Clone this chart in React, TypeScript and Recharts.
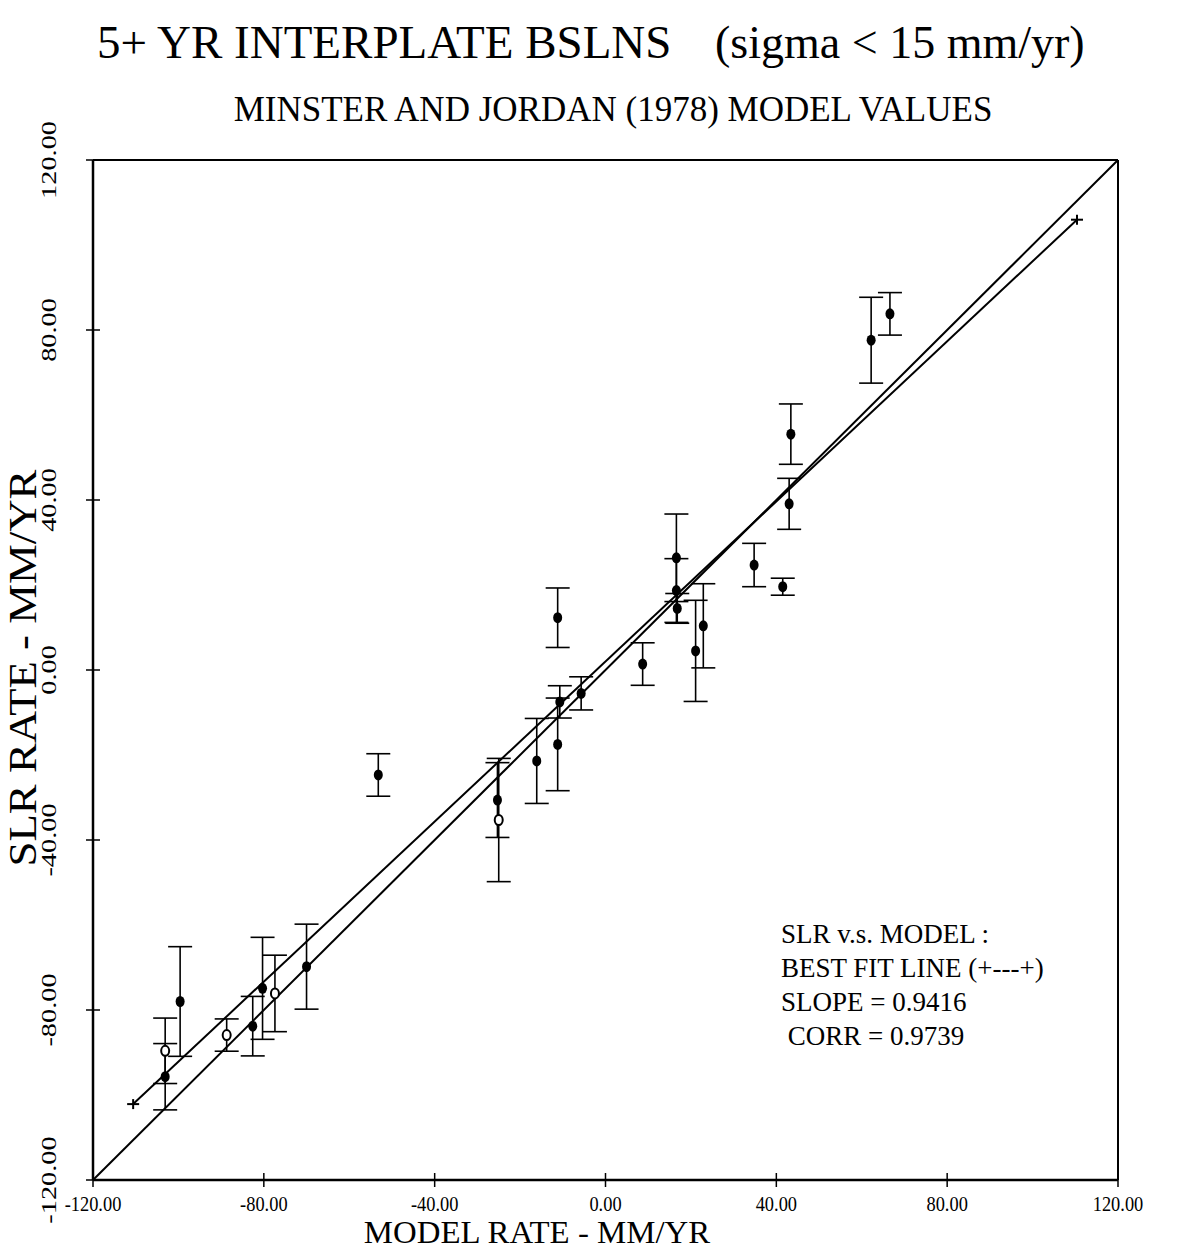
import React from 'react';
import {
  ScatterChart,
  Scatter,
  XAxis,
  YAxis,
  ErrorBar,
  ReferenceLine,
} from 'recharts';

// SLR baseline rates against Minster & Jordan (1978) model rates, mm/yr
const modelRate = [
  -103.1, -99.6, -82.6, -80.3, -70.0, -53.2, -25.3, -16.1, -11.2, -11.2, -10.7, -5.7,
  8.7, 16.6, 16.6, 16.8, 21.1, 22.9, 34.8, 41.5, 43.0, 43.4, 62.2, 66.6,
];
const slrRate = [
  -95.7, -78.0, -83.8, -74.9, -69.8, -24.7, -30.6, -21.4, 12.3, -17.5, -7.5, -5.5,
  1.4, 26.4, 18.7, 14.5, 4.5, 10.4, 24.7, 19.6, 39.1, 55.5, 77.6, 83.8,
];
const slrSigma = [
  7.8, 12.9, 7.0, 12.0, 10.0, 5.0, 8.8, 10.0, 7.0, 10.9, 3.8, 3.9,
  5.0, 10.3, 7.5, 3.5, 11.9, 9.9, 5.1, 2.0, 6.0, 7.1, 10.1, 5.0,
];

// baselines plotted with open symbols
const openModelRate = [-103.1, -88.7, -77.4, -25.0];
const openSlrRate = [-89.6, -85.9, -76.1, -35.3];
const openSigma = [7.7, 3.8, 9.0, 14.5];

const axisTicks = [-120, -80, -40, 0, 40, 80, 120];

const fitSlope = 0.9416;
const fitIntercept = 2.0;
const fitRange = [-110.6, 110.4];

const annotation = ['SLR v.s. MODEL :', 'BEST FIT LINE (+---+)', 'SLOPE = 0.9416', ' CORR = 0.9739'];

const points = modelRate.map((x, i) => ({ x, y: slrRate[i], err: slrSigma[i] }));
const openPoints = openModelRate.map((x, i) => ({ x, y: openSlrRate[i], err: openSigma[i] }));
const fitLine = fitRange.map((x) => ({ x, y: fitSlope * x + fitIntercept }));

const FONT = '"Liberation Serif", "DejaVu Serif", serif';

function XTick({ x, y, payload }: any) {
  return (
    <g>
      <line x1={x} x2={x} y1={y - 7} y2={y + 7} stroke="#000" strokeWidth={1.5} />
      <text
        transform={`translate(${x},${y + 31}) scale(0.92,1)`}
        textAnchor="middle"
        fontFamily={FONT}
        fontSize={20}
        fill="#000"
      >
        {payload.value.toFixed(2)}
      </text>
    </g>
  );
}

function YTick({ x, y, payload }: any) {
  return (
    <g>
      <line x1={x - 7} x2={x + 7} y1={y} y2={y} stroke="#000" strokeWidth={1.5} />
      <text
        transform={`translate(${x - 37},${y}) rotate(-90) scale(1.35,1)`}
        textAnchor="middle"
        fontFamily={FONT}
        fontSize={21}
        fill="#000"
      >
        {payload.value.toFixed(2)}
      </text>
    </g>
  );
}

const Dot = ({ cx, cy }: any) => <ellipse cx={cx} cy={cy} rx={4.5} ry={5.5} fill="#000" />;
const OpenDot = ({ cx, cy }: any) => (
  <ellipse cx={cx} cy={cy} rx={4} ry={5} fill="#fff" stroke="#000" strokeWidth={2} />
);
const Cross = ({ cx, cy }: any) => (
  <g stroke="#000" strokeWidth={2}>
    <line x1={cx - 6} x2={cx + 6} y1={cy} y2={cy} />
    <line x1={cx} x2={cx} y1={cy - 5} y2={cy + 5} />
  </g>
);

export default function App() {
  return (
    <div style={{ position: 'absolute', left: 0, top: 0, width: 1177, height: 1251, background: '#fff' }}>
      <ScatterChart width={1177} height={1251} margin={{ top: 160, right: 59, bottom: 31, left: 33 }}>
        <XAxis
          type="number"
          dataKey="x"
          domain={[-120, 120]}
          ticks={axisTicks}
          height={40}
          tickSize={0}
          tickMargin={0}
          tickLine={false}
          axisLine={{ stroke: '#000', strokeWidth: 2.5 }}
          tick={(p: any) => <XTick {...p} />}
          allowDataOverflow
        />
        <YAxis
          type="number"
          dataKey="y"
          domain={[-120, 120]}
          ticks={axisTicks}
          width={60}
          tickSize={0}
          tickMargin={0}
          tickLine={false}
          axisLine={{ stroke: '#000', strokeWidth: 2.5 }}
          tick={(p: any) => <YTick {...p} />}
          allowDataOverflow
        />
        <ReferenceLine y={120} stroke="#000" strokeWidth={2} />
        <ReferenceLine x={120} stroke="#000" strokeWidth={2} />
        <ReferenceLine
          segment={[{ x: -120, y: -120 }, { x: 120, y: 120 }]}
          stroke="#000"
          strokeWidth={2}
        />
        <Scatter
          data={fitLine}
          line={{ stroke: '#000', strokeWidth: 2 }}
          shape={Cross}
          isAnimationActive={false}
        />
        <Scatter data={points} shape={Dot} isAnimationActive={false}>
          <ErrorBar dataKey="err" direction="y" width={12} stroke="#000" strokeWidth={1.6} />
        </Scatter>
        <Scatter data={openPoints} shape={OpenDot} isAnimationActive={false}>
          <ErrorBar dataKey="err" direction="y" width={12} stroke="#000" strokeWidth={1.6} />
        </Scatter>
      </ScatterChart>

      <svg
        width={1177}
        height={1251}
        style={{ position: 'absolute', left: 0, top: 0, pointerEvents: 'none' }}
        fontFamily={FONT}
        fill="#000"
      >
        <text x={97} y={58} fontSize={47}>5+ YR INTERPLATE BSLNS</text>
        <text x={715} y={58} fontSize={46}>(sigma &lt; 15 mm/yr)</text>
        <text x={613} y={121} fontSize={35} textAnchor="middle">
          MINSTER AND JORDAN (1978) MODEL VALUES
        </text>
        <text transform="translate(36,668) rotate(-90) scale(1.12,1)" fontSize={40} textAnchor="middle">
          SLR RATE - MM/YR
        </text>
        <text transform="translate(537,1243) scale(1.06,1)" fontSize={31} textAnchor="middle">
          MODEL RATE - MM/YR
        </text>
        {annotation.map((line, i) => (
          <text key={i} x={781} y={943 + i * 34} fontSize={27} style={{ whiteSpace: 'pre' }}>
            {line}
          </text>
        ))}
      </svg>
    </div>
  );
}
